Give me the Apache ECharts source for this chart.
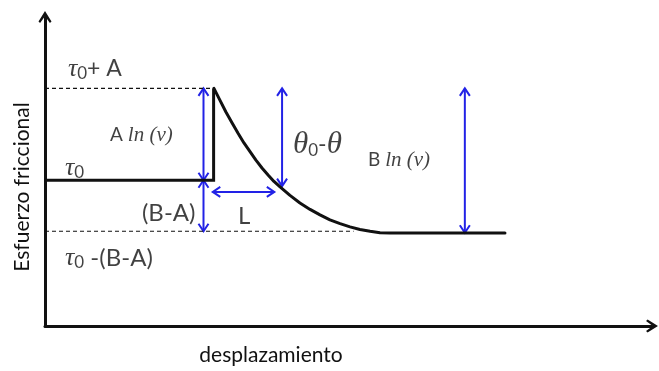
<!DOCTYPE html>
<html>
<head>
<meta charset="utf-8">
<script src="https://cdn.jsdelivr.net/npm/echarts@6/dist/echarts.min.js"></script>
<style>
  html, body { margin: 0; padding: 0; background: #ffffff; }
  #chart { width: 659px; height: 371px; }
</style>
</head>
<body>
<div id="chart"></div>
<script>
// Friction law sketch: stress response to a velocity step (rate-and-state).

// Steady sliding segment at tau0 and the instantaneous jump at the velocity step
const stepX = [0, 10, 10];
const stepY = [5, 5, 8.15];

// Evolution effect: decay from the peak down to the new steady state
const decayX = [10.02, 10.38, 10.73, 11.09, 11.45, 11.80, 12.16, 12.51, 12.87, 13.23, 13.58, 13.94,
                14.53, 15.12, 15.72, 16.31, 16.90, 17.50, 18.09, 18.68, 19.28, 19.87, 20.46, 27.28];
const decayY = [8.15, 7.74, 7.34, 6.97, 6.61, 6.28, 5.98, 5.69, 5.42, 5.18, 4.96, 4.77,
                4.48, 4.22, 4.00, 3.81, 3.64, 3.51, 3.40, 3.31, 3.25, 3.20, 3.19, 3.19];

// Dashed reference levels: [xStart, xEnd, level]
const guideLines = [
  [0, 10, 8.15],
  [0, 18.3, 3.25]
];

// Dimension arrows: [x1, y1, x2, y2]
const dimArrows = [
  [9.40, 8.15, 9.40, 5.0],
  [9.40, 5.0, 9.40, 3.25],
  [9.95, 4.60, 13.6, 4.60],
  [14.06, 8.15, 14.06, 4.80],
  [24.9, 8.15, 24.9, 3.2]
];

// Annotation texts and their anchor points
const labelTexts = [
  '{t|τ}{s|0}{n|+ A}',
  '{n2|A }{i|ln (v)}',
  '{t|τ}{s|0}',
  '{h|θ}{s|0}{n|-}{h|θ}',
  '{n2|B }{i|ln (v)}',
  '{b|(B-A)}',
  '{b|L}',
  '{t|τ}{s|0}{b| -(B-A)}'
];
const labelX = [1.36, 3.86, 1.19, 14.71, 19.16, 5.75, 11.45, 1.19];
const labelY = [8.82, 6.55, 5.42, 6.21, 5.69, 3.88, 3.77, 2.33];

const xTitle = 'desplazamiento';
const yTitle = 'Esfuerzo friccional';

const chevron = 'path://M50,0 L100,80 L88,92 L50,40 L12,92 L0,80 Z';
const blue = '#2222e6';
const ink = '#111111';
const sans = 'Lato';
const serif = 'Liberation Serif';

const zip = (xs, ys) => xs.map((x, i) => [x, ys[i]]);

const chart = echarts.init(document.getElementById('chart'), null, { renderer: 'canvas' });

const option = {
  backgroundColor: '#ffffff',
  animation: false,
  grid: { left: 45, right: 7, top: 17, bottom: 45 },
  xAxis: {
    type: 'value', min: 0, max: 36,
    axisLine: { show: true, symbol: ['none', chevron], symbolSize: [13, 12], lineStyle: { color: ink, width: 3 } },
    axisTick: { show: false }, axisLabel: { show: false }, splitLine: { show: false }
  },
  yAxis: {
    type: 'value', min: 0, max: 10.6,
    axisLine: { show: true, symbol: ['none', chevron], symbolSize: [13, 12], lineStyle: { color: ink, width: 3 } },
    axisTick: { show: false }, axisLabel: { show: false }, splitLine: { show: false }
  },
  graphic: [
    {
      type: 'text', x: 22, y: 187, rotation: Math.PI / 2,
      style: { text: yTitle, font: '21px ' + sans, fill: ink, align: 'center', verticalAlign: 'middle' }
    },
    {
      type: 'text', x: 271, y: 355,
      style: { text: xTitle, font: '21px ' + sans, fill: ink, align: 'center', verticalAlign: 'middle' }
    }
  ],
  series: [
    ...guideLines.map(g => ({
      type: 'line', data: [[g[0], g[2]], [g[1], g[2]]], symbol: 'none', silent: true,
      lineStyle: { color: ink, width: 1.2, type: [4, 3] }
    })),
    {
      type: 'line', data: zip(stepX, stepY), symbol: 'none', silent: true,
      lineStyle: { color: ink, width: 3, join: 'miter' }
    },
    {
      type: 'line', data: zip(decayX, decayY), symbol: 'none', smooth: false, silent: true,
      lineStyle: { color: ink, width: 3, join: 'round', cap: 'round' }
    },
    {
      type: 'custom', silent: true,
      data: dimArrows,
      encode: { x: [0, 2], y: [1, 3] },
      renderItem: function (params, api) {
        const p1 = api.coord([api.value(0), api.value(1)]);
        const p2 = api.coord([api.value(2), api.value(3)]);
        const dx = p2[0] - p1[0], dy = p2[1] - p1[1];
        const len = Math.hypot(dx, dy);
        const ux = dx / len, uy = dy / len, nx = -uy, ny = ux;
        const h = 7.5, w = 5;
        const st = { stroke: blue, lineWidth: 2, fill: null };
        return {
          type: 'group',
          children: [
            { type: 'line', shape: { x1: p1[0], y1: p1[1], x2: p2[0], y2: p2[1] }, style: st },
            { type: 'polyline', shape: { points: [
              [p1[0] + ux * h + nx * w, p1[1] + uy * h + ny * w], [p1[0], p1[1]],
              [p1[0] + ux * h - nx * w, p1[1] + uy * h - ny * w]] }, style: st },
            { type: 'polyline', shape: { points: [
              [p2[0] - ux * h + nx * w, p2[1] - uy * h + ny * w], [p2[0], p2[1]],
              [p2[0] - ux * h - nx * w, p2[1] - uy * h - ny * w]] }, style: st }
          ]
        };
      }
    },
    {
      type: 'scatter', symbolSize: 0, silent: true,
      data: labelTexts.map((t, i) => ({ value: [labelX[i], labelY[i]], label: { formatter: t } })),
      label: {
        show: true, position: 'right', distance: 0, color: ink,
        rich: {
          t: { fontFamily: serif, fontStyle: 'italic', fontSize: 26, lineHeight: 26, color: ink },
          s: { fontFamily: sans, fontSize: 17, lineHeight: 14, verticalAlign: 'bottom', color: ink },
          n: { fontFamily: sans, fontSize: 23, lineHeight: 26, color: ink },
          n2: { fontFamily: sans, fontSize: 19, lineHeight: 22, color: ink },
          i: { fontFamily: serif, fontStyle: 'italic', fontSize: 21, lineHeight: 22, color: ink },
          h: { fontFamily: serif, fontStyle: 'italic', fontSize: 31, lineHeight: 28, color: ink },
          b: { fontFamily: sans, fontSize: 24, lineHeight: 26, color: ink }
        }
      }
    }
  ]
};

chart.setOption(option);
</script>
</body>
</html>
